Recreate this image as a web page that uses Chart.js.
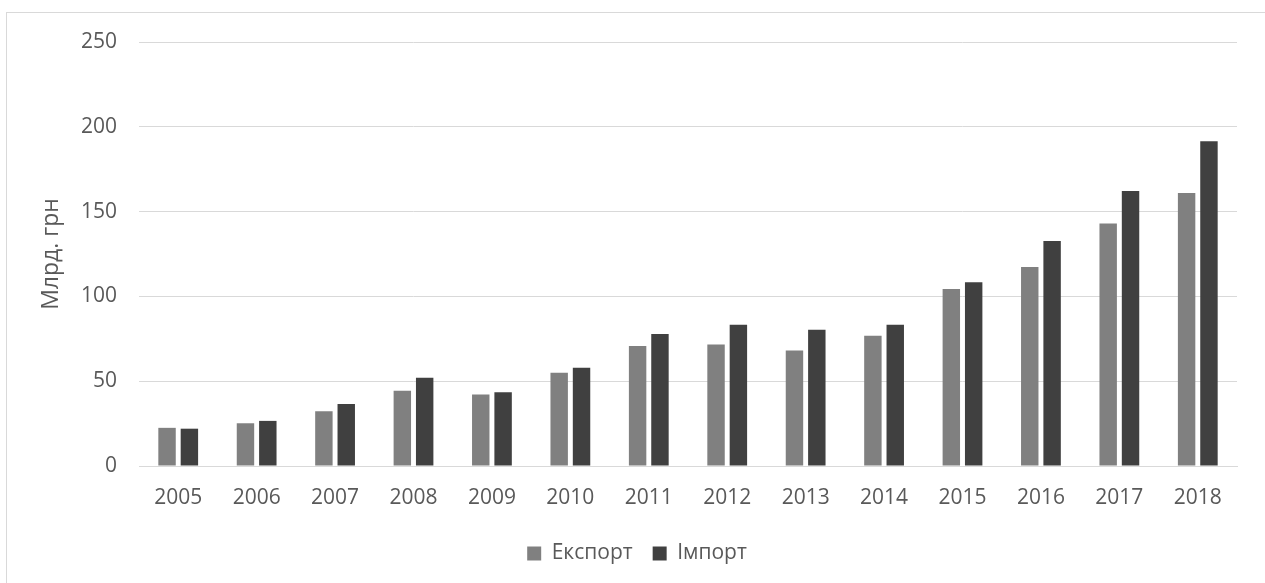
<!DOCTYPE html>
<html>
<head>
<meta charset="utf-8">
<script src="https://cdn.jsdelivr.net/npm/chart.js@4"></script>
<style>
  html, body { margin: 0; padding: 0; background: #fff; overflow: hidden; }
  #ramka { position: absolute; left: 6px; top: 12px; width: 1300px; height: 600px; border: 1px solid #d9d9d9; }
  #obertka { position: absolute; left: 0; top: 0; width: 1265px; height: 583px; }
</style>
</head>
<body>
<div id="ramka"></div>
<div id="obertka"><canvas id="miGrafico"></canvas></div>
<script>
var roky = ['2005', '2006', '2007', '2008', '2009', '2010', '2011', '2012', '2013', '2014', '2015', '2016', '2017', '2018'];
var eksport = [22.5, 25.2, 32.3, 44.3, 42.1, 55.0, 70.7, 71.7, 68.1, 76.8, 104.4, 117.4, 143.0, 160.9];
var import_ = [22.0, 26.6, 36.5, 52.0, 43.5, 57.9, 77.8, 83.3, 80.4, 83.3, 108.3, 132.6, 162.1, 191.5];
var nazvySerij = ['Експорт', 'Імпорт'];
var yTyky = [0, 50, 100, 150, 200, 250];

var shrift = '"Open Sans", "Liberation Sans", sans-serif';
var sirij = '#595959';

// Datos del gráfico
var datos = {
  labels: roky,
  datasets: [{
    label: nazvySerij[0],
    data: eksport,
    backgroundColor: '#808080',
    categoryPercentage: 0.57,
    barPercentage: 0.78
  }, {
    label: nazvySerij[1],
    data: import_,
    backgroundColor: '#404040',
    categoryPercentage: 0.57,
    barPercentage: 0.78
  }]
};

var opciones = {
  responsive: false,
  animation: false,
  layout: { padding: { left: 37, right: 28, top: 42, bottom: 9 } },
  plugins: {
    tooltip: { enabled: false },
    legend: {
      position: 'bottom',
      labels: {
        boxWidth: 14, boxHeight: 14, padding: 20,
        color: sirij,
        font: { family: shrift, size: 21 }
      }
    }
  },
  scales: {
    x: {
      grid: { display: false, drawTicks: false },
      border: { color: '#d9d9d9', width: 1 },
      ticks: { color: sirij, font: { family: shrift, size: 21 }, padding: 19, maxRotation: 0 },
      afterFit: function (s) { s.height = 57; }
    },
    y: {
      min: 0, max: 250,
      afterBuildTicks: function (s) { s.ticks = yTyky.map(function (v) { return { value: v }; }); },
      grid: { color: '#d9d9d9', lineWidth: 1, drawTicks: false },
      border: { display: false },
      ticks: { color: sirij, font: { family: shrift, size: 21 }, padding: 22 },
      title: { display: true, text: 'Млрд. грн', color: sirij, font: { family: shrift, size: 23 }, padding: 1 },
      afterFit: function (s) { s.width = 102; }
    }
  }
};

var canvas = document.getElementById('miGrafico');
canvas.width = 1265;
canvas.height = 583;
var grafico = new Chart(canvas, { type: 'bar', data: datos, options: opciones });
</script>
</body>
</html>
